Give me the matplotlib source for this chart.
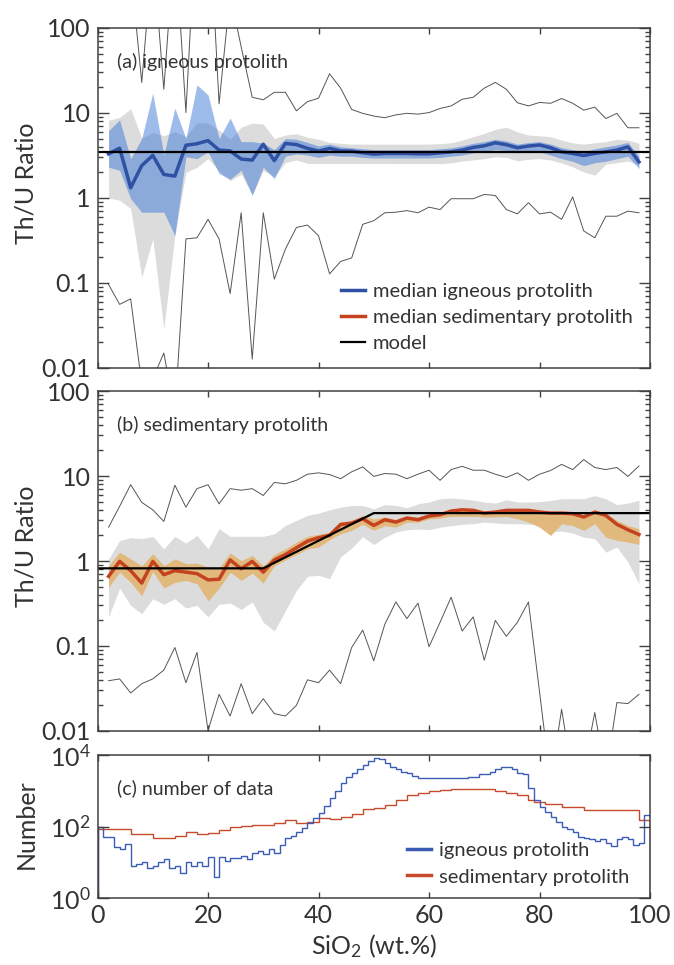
import numpy as np
import matplotlib
matplotlib.use('Agg')
import matplotlib.pyplot as plt
from matplotlib.lines import Line2D
from matplotlib.ticker import FuncFormatter, FixedLocator, NullLocator

plt.rcParams['font.family'] = ['Lato', 'DejaVu Sans']
plt.rcParams['mathtext.default'] = 'regular'
plt.rcParams['text.color'] = '#333333'
plt.rcParams['axes.labelcolor'] = '#333333'

# SiO2 bin centres for the Th/U curves
sio2 = np.arange(2, 100, 2)

# (a) igneous protolith
ig_median = [3.3, 3.85, 1.32, 2.4, 3.17, 1.89, 1.81, 4.17, 4.35, 4.73,
             3.66, 3.58, 2.87, 2.79, 4.29, 2.75, 4.38, 4.25, 3.83, 3.56,
             3.83, 3.58, 3.56, 3.4, 3.28, 3.34, 3.34, 3.34, 3.31, 3.31,
             3.4, 3.49, 3.66, 3.93, 4.11, 4.46, 4.23, 3.9, 4.08, 4.2,
             3.9, 3.49, 3.34, 3.16, 3.34, 3.49, 3.66, 4.0, 2.66]
ig_band_hi = [6.2, 8.3, 2.9, 5.0, 17.1, 3.2, 11.4, 5.0, 21.4, 16.3,
              5.0, 8.7, 4.6, 4.6, 4.4, 3.7, 5.0, 4.9, 4.5, 4.1,
              4.3, 4.0, 3.9, 3.8, 3.7, 3.7, 3.7, 3.7, 3.7, 3.7,
              3.8, 3.9, 4.1, 4.4, 4.6, 4.9, 4.7, 4.3, 4.5, 4.6,
              4.3, 3.9, 3.7, 3.5, 3.8, 4.0, 4.2, 4.5, 3.1]
ig_band_lo = [2.3, 2.12, 0.98, 0.68, 0.68, 0.68, 0.36, 3.05, 2.9, 3.5,
              1.94, 1.66, 2.12, 1.07, 2.3, 1.69, 3.1, 3.3, 3.2, 3.0,
              3.2, 3.1, 3.1, 3.0, 2.95, 2.95, 2.95, 2.95, 2.95, 2.95,
              3.0, 3.1, 3.2, 3.4, 3.5, 3.7, 3.6, 3.4, 3.5, 3.5,
              3.2, 2.9, 2.7, 2.4, 2.6, 2.7, 2.9, 3.1, 2.22]
ig_grey_hi = [8.2, 8.9, 11.2, 5.1, 5.9, 5.4, 6.0, 5.3, 7.7, 7.6,
              6.3, 4.9, 6.8, 7.6, 7.4, 5.0, 5.5, 5.7, 5.2, 4.9,
              4.5, 4.4, 4.3, 4.3, 4.3, 4.3, 4.3, 4.3, 4.3, 4.3,
              4.35, 4.46, 4.8, 5.25, 5.75, 6.4, 6.8, 6.0, 5.5, 5.4,
              5.25, 4.8, 4.46, 4.3, 4.46, 4.6, 4.9, 4.8, 4.4]
ig_grey_lo = [1.0, 0.94, 0.75, 0.117, 0.33, 0.029, 0.37, 2.0, 2.3, 2.9,
              2.1, 1.6, 1.9, 1.1, 2.1, 1.8, 2.6, 2.8, 2.55, 2.55,
              2.55, 2.55, 2.55, 2.55, 2.55, 2.55, 2.54, 2.54, 2.54, 2.54,
              2.54, 2.58, 2.73, 2.8, 2.9, 3.05, 3.0, 2.73, 2.85, 2.9,
              2.8, 2.58, 2.32, 2.03, 1.85, 2.5, 2.6, 2.73, 2.43]
ig_max = [400, 600, 500, 22.8, 800, 19, 1200, 10.1, 3000, 4000,
          12.8, 250, 60, 15.3, 14.3, 17.5, 17.5, 10.6, 13.6, 14.9,
          28.9, 19.6, 11.0, 9.9, 9.2, 8.8, 9.5, 9.9, 9.7, 10.1,
          11.3, 12.1, 14.5, 15.3, 19.6, 22.9, 19.0, 13.2, 12.1, 13.3,
          13.0, 14.8, 13.0, 10.8, 11.7, 8.6, 9.9, 6.7, 6.7]
ig_min = [0.096, 0.056, 0.065, 0.0065, 0.0075, 0.015, 0.003, 0.33, 0.34, 0.56,
          0.33, 0.075, 0.67, 0.0127, 0.67, 0.111, 0.25, 0.45, 0.48, 0.36,
          0.128, 0.179, 0.197, 0.49, 0.54, 0.67, 0.68, 0.71, 0.67, 0.78,
          0.73, 0.98, 0.98, 0.98, 1.1, 1.07, 0.73, 0.65, 0.88, 0.65,
          0.68, 0.56, 1.03, 0.41, 0.34, 0.61, 0.61, 0.7, 0.67]

# (b) sedimentary protolith
sed_median = [0.66, 0.99, 0.77, 0.55, 0.99, 0.69, 0.77, 0.74, 0.71, 0.60,
              0.61, 1.03, 0.81, 0.99, 0.74, 1.03, 1.19, 1.43, 1.71, 1.88,
              2.0, 2.69, 2.79, 3.14, 2.62, 3.06, 2.87, 3.2, 3.06, 3.38,
              3.5, 3.87, 4.0, 3.94, 3.66, 3.76, 3.94, 3.94, 3.94, 3.76,
              3.66, 3.66, 3.6, 3.29, 3.76, 3.44, 2.7, 2.33, 2.05]
sed_band_hi = [0.88, 1.27, 1.06, 0.88, 1.22, 0.88, 1.06, 0.93, 0.94, 0.85,
               0.83, 1.24, 1.01, 1.16, 0.88, 1.19, 1.39, 1.67, 1.95, 2.06,
               2.19, 2.87, 3.0, 3.43, 3.13, 3.3, 3.1, 3.4, 3.3, 3.6,
               3.7, 4.05, 4.2, 4.15, 3.85, 3.95, 4.15, 4.15, 4.15, 4.0,
               3.85, 3.85, 3.8, 3.5, 4.0, 3.65, 3.0, 2.62, 2.4]
sed_band_lo = [0.49, 0.74, 0.56, 0.39, 0.75, 0.48, 0.56, 0.59, 0.54, 0.34,
               0.48, 0.74, 0.59, 0.72, 0.55, 0.88, 1.03, 1.19, 1.39, 1.46,
               1.78, 2.09, 2.3, 2.7, 2.3, 2.6, 2.5, 2.87, 2.85, 3.14,
               3.2, 3.35, 3.35, 3.35, 3.3, 3.3, 3.35, 3.14, 2.87, 2.5,
               2.0, 2.74, 2.62, 2.29, 2.74, 1.91, 1.75, 1.67, 1.57]
sed_grey_hi = [1.06, 1.74, 1.88, 1.83, 1.95, 1.39, 1.95, 1.62, 2.0, 1.39,
               2.4, 1.95, 1.95, 1.95, 1.95, 2.09, 2.62, 3.0, 3.44, 3.66,
               4.0, 4.3, 4.5, 4.5, 4.1, 4.6, 4.5, 4.24, 4.7, 4.94,
               5.4, 5.5, 5.4, 5.2, 4.94, 4.8, 5.25, 4.94, 4.94, 5.0,
               5.15, 5.4, 5.4, 5.4, 5.87, 5.4, 4.6, 4.8, 5.2]
sed_grey_lo = [0.22, 0.48, 0.30, 0.24, 0.36, 0.31, 0.36, 0.28, 0.30, 0.22,
               0.31, 0.32, 0.27, 0.33, 0.19, 0.15, 0.26, 0.45, 0.66, 0.68,
               0.62, 1.12, 1.42, 1.93, 1.56, 1.9, 2.19, 2.33, 2.38, 2.33,
               2.5, 2.6, 2.7, 2.75, 2.87, 2.8, 2.75, 2.75, 2.7, 2.7,
               2.19, 2.25, 2.13, 1.91, 1.83, 1.27, 1.46, 0.97, 0.54]
sed_max = [2.5, 4.4, 7.9, 4.9, 4.0, 2.92, 7.8, 4.3, 7.1, 7.9,
           4.7, 7.1, 6.8, 7.1, 5.9, 8.4, 8.1, 8.9, 10.5, 10.9,
           10.4, 9.3, 11.2, 12.8, 9.9, 10.7, 10.5, 9.3, 10.5, 11.7,
           8.9, 11.9, 13.0, 11.7, 11.7, 10.5, 9.6, 10.9, 8.9, 10.5,
           11.6, 13.7, 11.9, 15.6, 12.6, 11.9, 12.6, 9.9, 13.1]
sed_min = [0.039, 0.041, 0.028, 0.036, 0.041, 0.052, 0.096, 0.037, 0.084, 0.0101,
           0.027, 0.015, 0.036, 0.016, 0.024, 0.016, 0.015, 0.02, 0.04, 0.037,
           0.052, 0.036, 0.096, 0.154, 0.067, 0.18, 0.33, 0.21, 0.32, 0.098,
           0.19, 0.375, 0.15, 0.22, 0.068, 0.2, 0.13, 0.19, 0.33, 0.029,
           0.0025, 0.018, 0.0028, 0.0034, 0.0165, 0.003, 0.0216, 0.021, 0.027]

# model Th/U curves
model_ig_x = [0, 100]
model_ig_y = [3.5, 3.5]
model_sed_x = [0, 30, 50, 100]
model_sed_y = [0.82, 0.82, 3.66, 3.66]

# (c) number of samples per 1 wt.% SiO2 bin
bin_edges = np.arange(0, 101, 1)
ig_counts = [100, 50, 50, 26, 24, 32, 8, 9, 10, 7,
             8, 10, 12, 7, 8, 5, 10, 8, 10, 8,
             14, 4, 14, 11, 13, 13, 15, 12, 18, 21,
             17, 23, 18, 31, 47, 55, 72, 93, 129, 170,
             234, 380, 617, 1000, 1700, 2400, 3100, 4000, 5200, 6900,
             8500, 7600, 5900, 4700, 4000, 3400, 3100, 2600, 2240, 2240,
             2240, 2240, 2240, 2240, 2240, 2340, 2340, 2500, 2500, 2950,
             2950, 3400, 4000, 4500, 4500, 4000, 3200, 2950, 1170, 540,
             360, 250, 180, 130, 100, 85, 72, 52, 47, 45,
             40, 45, 34, 29, 45, 52, 45, 31, 35, 215]
sed_counts = [85, 85, 85, 85, 85, 85, 62, 62, 62, 62,
              47, 47, 47, 47, 55, 55, 72, 72, 62, 62,
              68, 68, 81, 81, 95, 95, 105, 105, 107, 107,
              107, 107, 123, 123, 148, 148, 123, 123, 138, 138,
              170, 170, 160, 160, 190, 190, 219, 219, 300, 300,
              325, 325, 400, 400, 550, 550, 760, 760, 890, 890,
              955, 955, 1050, 1050, 1100, 1100, 1100, 1100, 1120, 1120,
              1120, 1120, 1000, 1000, 890, 890, 760, 760, 550, 500,
              500, 427, 427, 427, 363, 363, 363, 363, 282, 282,
              282, 282, 282, 282, 295, 295, 295, 295, 148, 148]

BLUE = '#2f51a3'
BLUE_FILL = '#3c78d8'
RED = '#c4421f'
ORANGE_FILL = '#e1b97d'
GREY_FILL = '#dcdcdc'
THIN = '#555555'
EDGE = '#404040'
HIST_BLUE = '#3a5cb5'
HIST_RED = '#c84a2c'

fig = plt.figure(figsize=(6.74, 9.65), dpi=100)
ax_a = fig.add_axes([0.1447, 0.6187, 0.8197, 0.3523])
ax_b = fig.add_axes([0.1447, 0.2425, 0.8197, 0.3523])
ax_c = fig.add_axes([0.1447, 0.0694, 0.8197, 0.1482])


def style_axis(ax):
    ax.set_xlim(0, 100)
    ax.set_xticks(range(0, 101, 20))
    ax.xaxis.set_minor_locator(NullLocator())
    for sp in ax.spines.values():
        sp.set_color(EDGE)
        sp.set_linewidth(1.1)
    ax.tick_params(which='both', direction='in', top=True, right=True,
                   color=EDGE, width=1.0, labelsize=18, labelcolor='#333333')
    ax.tick_params(axis='x', which='major', length=4, pad=4)
    ax.tick_params(axis='y', which='major', length=8, pad=5)
    ax.tick_params(axis='y', which='minor', length=3.6)


def ratio_axis(ax):
    ax.set_yscale('log')
    ax.set_ylim(0.01, 100)
    style_axis(ax)
    ax.tick_params(labelbottom=False)
    ax.yaxis.set_major_formatter(FuncFormatter(lambda v, p: '%g' % v))
    ax.set_ylabel('Th/U Ratio', fontsize=18)
    ax.yaxis.set_label_coords(-0.109, 0.543)


# (a) igneous protolith
ax_a.fill_between(sio2, ig_grey_lo, ig_grey_hi, color=GREY_FILL, lw=0)
ax_a.fill_between(sio2, ig_band_lo, ig_band_hi, color=BLUE_FILL, alpha=0.5, lw=0)
ax_a.plot(sio2, ig_max, color=THIN, lw=0.7)
ax_a.plot(sio2, ig_min, color=THIN, lw=0.7)
ax_a.plot(sio2, ig_median, color=BLUE, lw=2.5)
ax_a.plot(model_ig_x, model_ig_y, color='black', lw=1.6)
ratio_axis(ax_a)
ax_a.text(0.035, 0.9, '(a) igneous protolith', transform=ax_a.transAxes,
          fontsize=14, va='center')
handles = [Line2D([], [], color=BLUE, lw=2.5),
           Line2D([], [], color=RED, lw=2.5),
           Line2D([], [], color='black', lw=1.6)]
ax_a.legend(handles, ['median igneous protolith', 'median sedimentary protolith', 'model'],
            loc='upper left', bbox_to_anchor=(0.44, 0.25), frameon=False,
            fontsize=14.5, handlelength=1.2, handletextpad=0.4,
            labelspacing=0.45, borderpad=0, borderaxespad=0)

# (b) sedimentary protolith
ax_b.fill_between(sio2, sed_grey_lo, sed_grey_hi, color=GREY_FILL, lw=0)
ax_b.fill_between(sio2, sed_band_lo, sed_band_hi, color=ORANGE_FILL, lw=0)
ax_b.plot(sio2, sed_max, color=THIN, lw=0.7)
ax_b.plot(sio2, sed_min, color=THIN, lw=0.7)
ax_b.plot(sio2, sed_median, color=RED, lw=2.5)
ax_b.plot(model_sed_x, model_sed_y, color='black', lw=1.6)
ratio_axis(ax_b)
ax_b.text(0.035, 0.9, '(b) sedimentary protolith', transform=ax_b.transAxes,
          fontsize=14, va='center')

# (c) number of data
ax_c.stairs(sed_counts, bin_edges, baseline=1, color=HIST_RED, lw=1.0)
ax_c.stairs(ig_counts, bin_edges, baseline=1, color=HIST_BLUE, lw=1.0)
ax_c.set_yscale('log')
ax_c.set_ylim(1, 1e4)
style_axis(ax_c)
ax_c.yaxis.set_major_locator(FixedLocator([1, 100, 1e4]))
ax_c.yaxis.set_minor_locator(NullLocator())
ax_c.set_ylabel('Number', fontsize=18)
ax_c.yaxis.set_label_coords(-0.109, 0.52)
ax_c.set_xlabel('SiO$_2$ (wt.%)', fontsize=18, labelpad=4)
ax_c.text(0.035, 0.77, '(c) number of data', transform=ax_c.transAxes,
          fontsize=14, va='center')
hist_handles = [Line2D([], [], color=HIST_BLUE, lw=2.5),
                Line2D([], [], color=HIST_RED, lw=2.5)]
ax_c.legend(hist_handles, ['igneous protolith', 'sedimentary protolith'],
            loc='upper left', bbox_to_anchor=(0.56, 0.39), frameon=False,
            fontsize=14.5, handlelength=1.2, handletextpad=0.4,
            labelspacing=0.45, borderpad=0, borderaxespad=0)

fig.savefig('out.png', dpi=100)
